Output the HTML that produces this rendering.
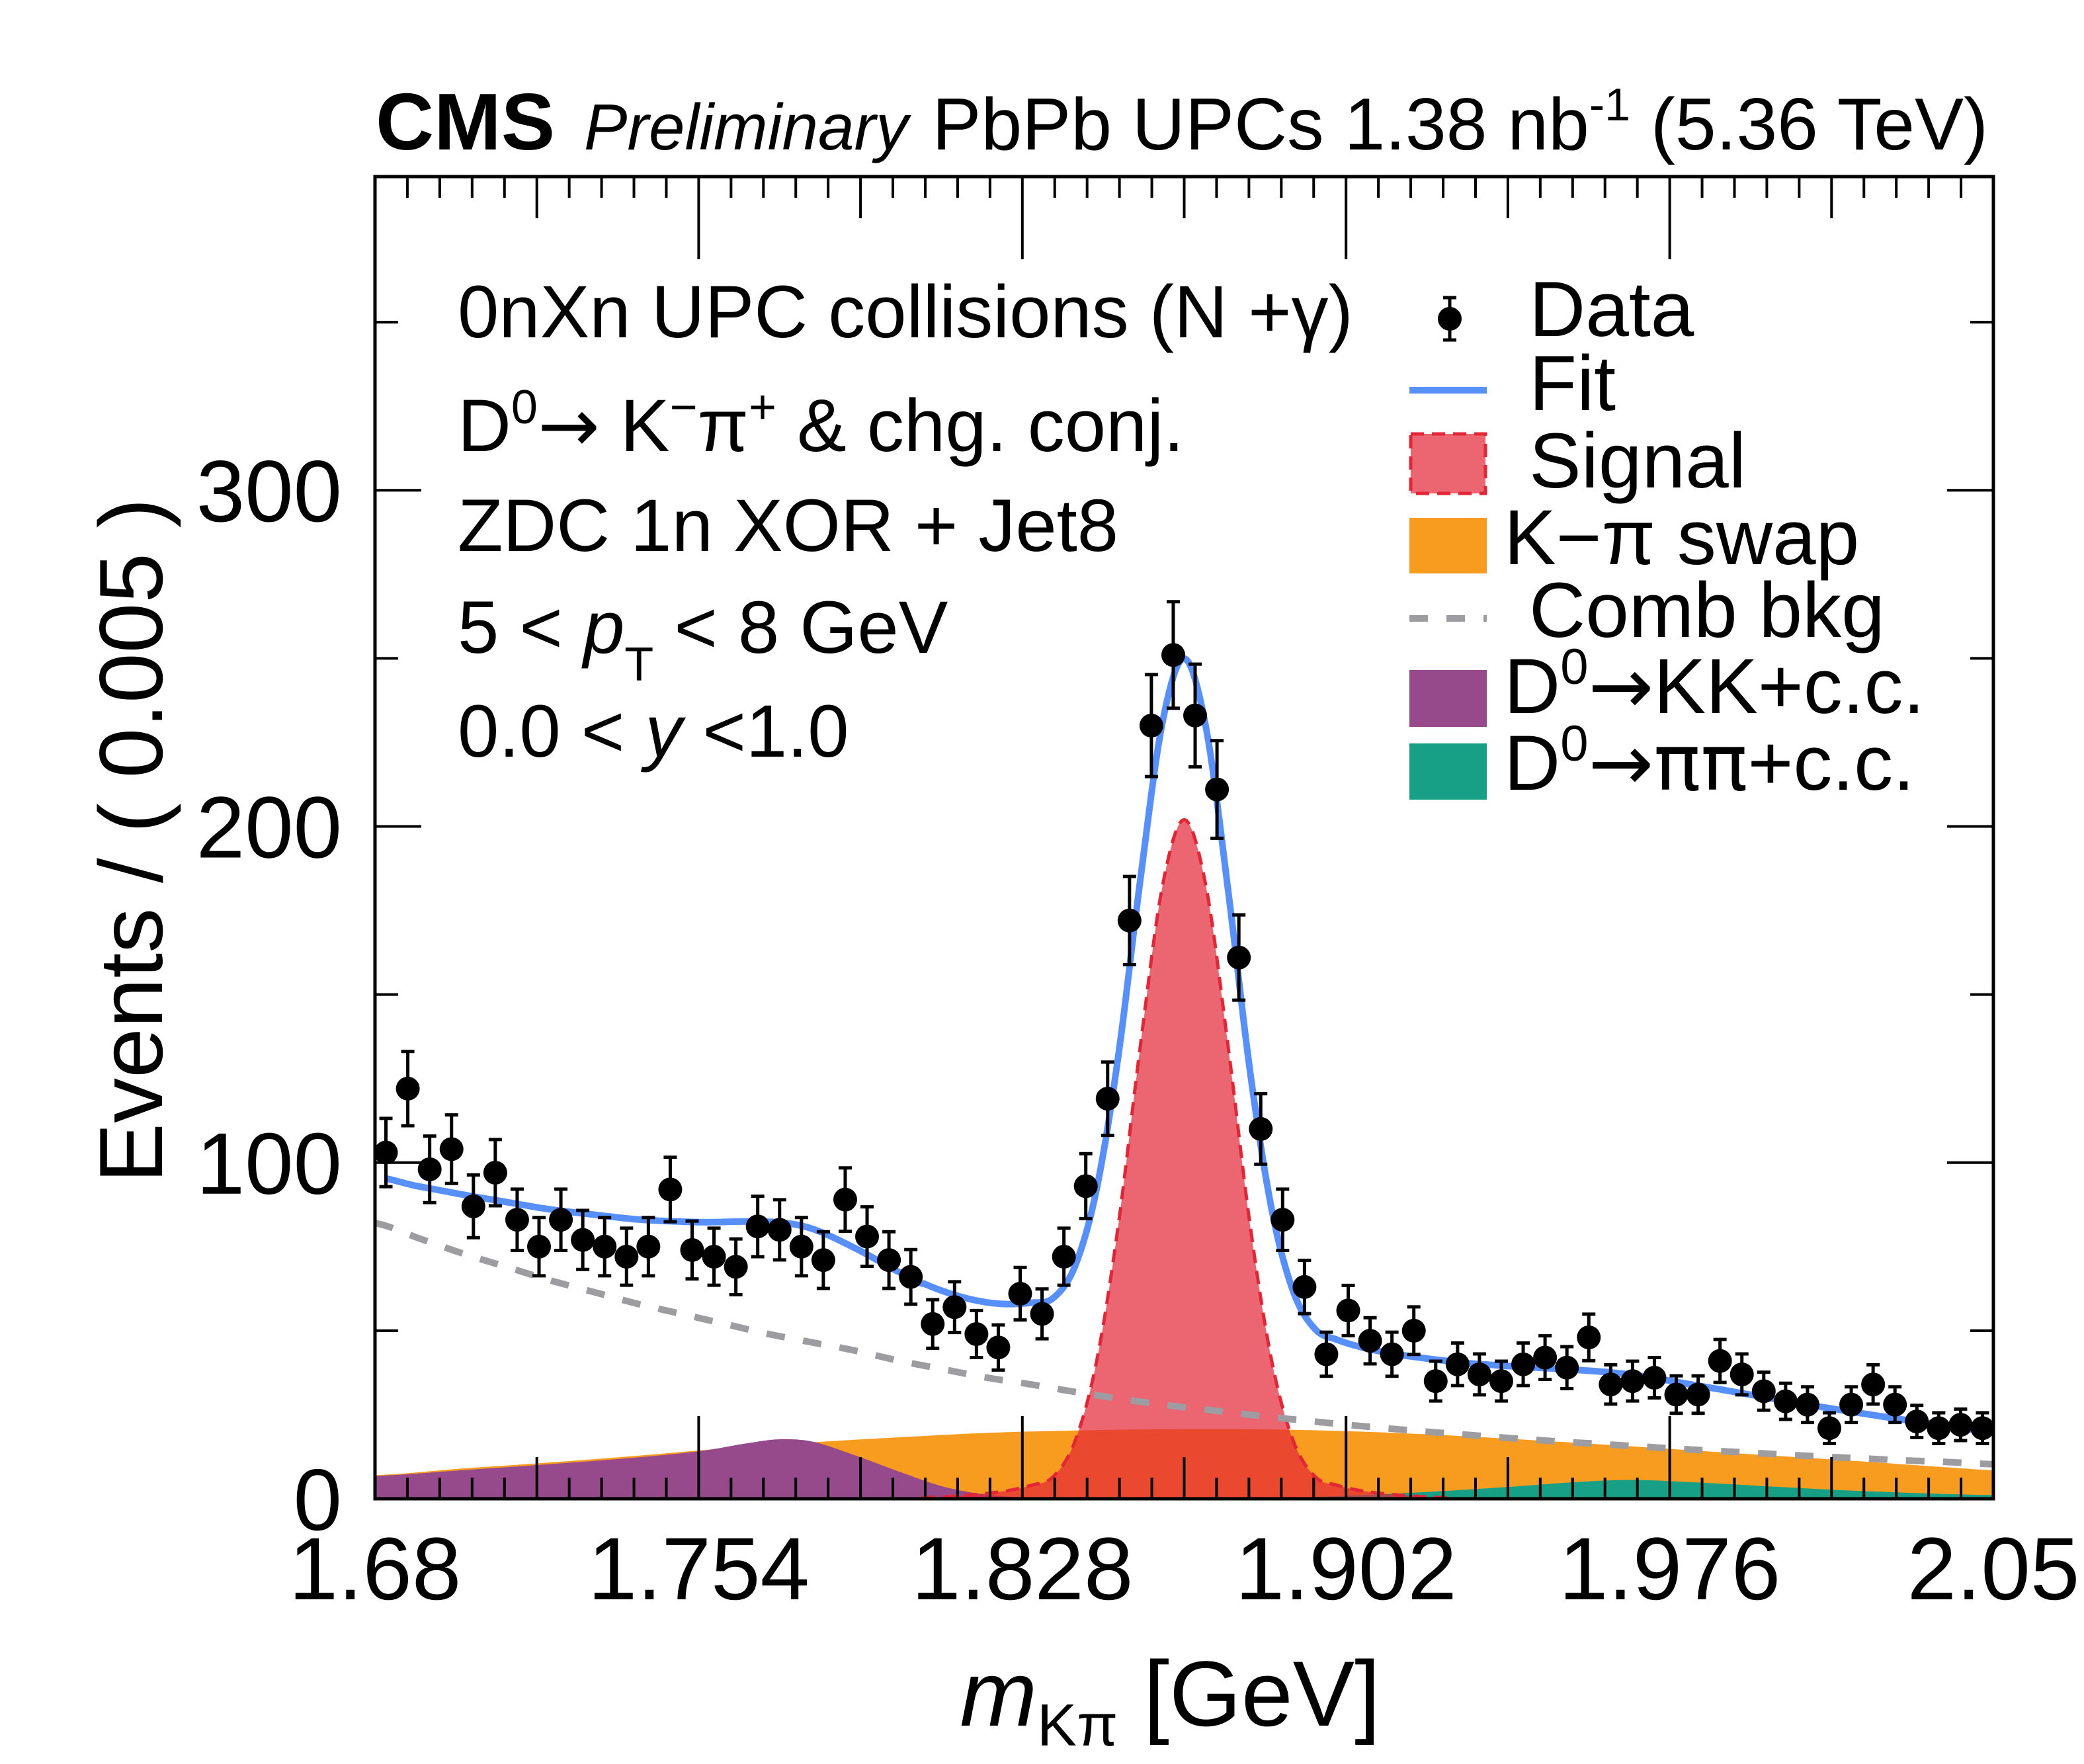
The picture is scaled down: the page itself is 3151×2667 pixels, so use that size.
<!DOCTYPE html>
<html><head><meta charset="utf-8"><style>
html,body{margin:0;padding:0;background:#fff;}
svg{display:block;font-family:"Liberation Sans",Arial,sans-serif;}
.ar{font-family:"DejaVu Sans",sans-serif;}
</style></head><body>
<svg id="chart" width="3151" height="2667" viewBox="0 0 3151 2667" xmlns="http://www.w3.org/2000/svg">
<rect width="3151" height="2667" fill="#fff"/>
<g id="fills"></g>
<g id="lines"></g>
<g id="points"></g>
<g id="axes"></g>

<text x="568" y="226" font-size="122" font-weight="bold">CMS</text>
<text x="883" y="226" font-size="98" font-style="italic">Preliminary</text>
<text x="3006" y="226" font-size="111" text-anchor="end">PbPb UPCs 1.38 nb<tspan dy="-44" font-size="70">-1</tspan><tspan dy="44"> (5.36 TeV)</tspan></text>

<g font-size="112">
<text x="692" y="510">0nXn UPC collisions (N +γ)</text>
<text x="692" y="682">D<tspan dy="-42" font-size="72">0</tspan><tspan dy="42" class="ar">→</tspan> K<tspan dy="-42" font-size="72">−</tspan><tspan dy="42">π</tspan><tspan dy="-42" font-size="72">+</tspan><tspan dy="42"> &amp; chg. conj.</tspan></text>
<text x="692" y="833">ZDC 1n XOR + Jet8</text>
<text x="692" y="987">5 &lt; <tspan font-style="italic">p</tspan><tspan dy="42" font-size="72">T</tspan><tspan dy="-42"> &lt; 8 GeV</tspan></text>
<text x="692" y="1144">0.0 &lt; <tspan font-style="italic">y</tspan> &lt;1.0</text>
</g>

<g font-size="118">
<g>
<line x1="2192" y1="450" x2="2192" y2="514" stroke="#000" stroke-width="5"/>
<line x1="2182" y1="450" x2="2202" y2="450" stroke="#000" stroke-width="5"/>
<line x1="2182" y1="514" x2="2202" y2="514" stroke="#000" stroke-width="5"/>
<circle cx="2192" cy="482" r="18" fill="#000"/>
<text x="2312" y="508">Data</text></g>
<g>
<line x1="2131" y1="590" x2="2248" y2="590" stroke="#5790fc" stroke-width="10"/>
<text x="2312" y="620">Fit</text></g>
<g>
<rect x="2133" y="656" width="113" height="90" fill="rgba(228,37,54,0.7)" stroke="#e42536" stroke-width="5" stroke-dasharray="20 12"/>
<text x="2312" y="737">Signal</text></g>
<g>
<rect x="2131" y="783" width="117" height="84" fill="#f89c20"/>
<text x="2274" y="853">K−π swap</text></g>
<g>
<line x1="2131" y1="935" x2="2248" y2="935" stroke="#9c9ca1" stroke-width="10" stroke-dasharray="28 28"/>
<text x="2312" y="963">Comb bkg</text></g>
<g>
<rect x="2131" y="1013" width="117" height="86" fill="#964a8b"/>
<text x="2274" y="1078">D<tspan dy="-44" font-size="76">0</tspan><tspan dy="44" class="ar">→</tspan>KK+c.c.</text></g>
<g>
<rect x="2131" y="1124" width="117" height="85" fill="#17a085"/>
<text x="2274" y="1194">D<tspan dy="-44" font-size="76">0</tspan><tspan dy="44" class="ar">→ππ</tspan>+c.c.</text></g>
</g>

<text x="245" y="753" font-size="136" text-anchor="end" transform="rotate(-90 245 753)">Events / ( 0.005 )</text>
<text x="2087" y="2609" font-size="140" text-anchor="end"><tspan font-style="italic">m</tspan><tspan dy="30" font-size="90">Kπ</tspan><tspan dy="-30"> [GeV]</tspan></text>
</svg>
<script>
// ---- data ----
const dataCounts = [103,122,98,104,87,97,83,75,83,77,75,72,75,92,74,72,69,81,80,75,71,89,78,71,66,52,57,49,45,61,55,72,93,119,172,230,251,233,211,161,110,83,63,43,56,47,43,50,35,40,37,35,40,42,39,48,34,35,36,31,31,41,37,32,29,28,21,28,34,28,23,21,22,21];
const binStart = 1.68;
const binWidth = 0.005;
const combX = [1.68,1.69,1.70,1.71,1.72,1.73,1.74,1.75,1.76,1.77,1.78,1.79,1.80,1.81,1.82,1.83,1.84,1.85,1.86,1.87,1.88,1.89,1.90,1.91,1.92,1.93,1.94,1.95,1.96,1.97,1.98,1.99,2.00,2.01,2.02,2.03,2.04,2.05];
const combY = [82,77.5,73,69,65,61.5,58,55,52,49,46.5,44,41,38.5,36,34,31.8,29.8,28,26.5,25,23.6,22.3,21.1,20,19,18,17.1,16.3,15.5,14.7,14,13.3,12.6,12,11.4,10.9,10.3];
const swapX = [1.68,1.70,1.72,1.74,1.76,1.78,1.80,1.82,1.84,1.86,1.88,1.90,1.92,1.94,1.96,1.98,2.00,2.02,2.04,2.05];
const swapY = [7,9,10.8,12.8,15,16.8,18.3,19.6,20.3,20.7,20.7,20.2,19.2,17.8,16.2,14.5,12.8,11.1,9.3,8.5];
const kkX = [1.68,1.70,1.72,1.74,1.755,1.765,1.7725,1.78,1.79,1.80,1.81,1.82,1.83,1.84];
const kkY = [6.8,8.5,10.3,12.3,14.3,16.5,17.7,17,12.8,8,3.6,1.2,0.3,0];
const pipiX = [1.88,1.90,1.92,1.94,1.955,1.967,1.98,2.00,2.02,2.05];
const pipiY = [0,0.8,2,3.6,5,5.6,5,3.6,2.3,1.1];
const sigX = [1.805,1.81,1.815,1.82,1.825,1.83,1.835,1.84,1.845,1.85,1.855,1.86,1.865,1.87,1.875,1.88,1.885,1.89,1.895,1.90,1.905,1.91,1.915,1.92,1.925];
const sigY = [0.3,0.6,1,1.6,2.5,4,6.5,17,41,82,135,182,202,182,135,82,41,17,6.5,4,2.5,1.6,1,0.6,0.3];
const xTickLabels = ["1.68","1.754","1.828","1.902","1.976","2.05"];
const yTickLabels = ["0","100","200","300"];

// ---- axes mapping ----
const X0=567, X1=3014, Y0=2266, Y1=267;
const XMIN=1.68, XMAX=2.05, YMIN=0, YMAX=393.3;
const sx = m => X0 + (m-XMIN)/(XMAX-XMIN)*(X1-X0);
const sy = v => Y0 - (v-YMIN)/(YMAX-YMIN)*(Y0-Y1);
const NS="http://www.w3.org/2000/svg";
function mk(tag, attrs, parent){const e=document.createElementNS(NS,tag);for(const k in attrs)e.setAttribute(k,attrs[k]);parent.appendChild(e);return e;}

function interp(xs, ys, x){
  if(x<=xs[0]) return ys[0];
  if(x>=xs[xs.length-1]) return ys[ys.length-1];
  let i=0; while(xs[i+1]<x) i++;
  const x0=xs[i], x1=xs[i+1], t=(x-x0)/(x1-x0);
  const y0=ys[i], y1=ys[i+1];
  const ym=i>0?ys[i-1]:y0, yp=i+2<ys.length?ys[i+2]:y1;
  const xm=i>0?xs[i-1]:x0-(x1-x0), xp=i+2<xs.length?xs[i+2]:x1+(x1-x0);
  const m0=(y1-ym)/(x1-xm)*(x1-x0), m1=(yp-y0)/(xp-x0)*(x1-x0);
  const t2=t*t,t3=t2*t;
  const v=(2*t3-3*t2+1)*y0+(t3-2*t2+t)*m0+(-2*t3+3*t2)*y1+(t3-t2)*m1;
  return Math.max(0,v);
}
function comp(xs,ys,x){ return (x<xs[0]||x>xs[xs.length-1])?0:interp(xs,ys,x); }
function areaPath(xs,ys){
  let d="M"+sx(xs[0]).toFixed(1)+","+Y0;
  const n=Math.ceil((xs[xs.length-1]-xs[0])/0.0005);
  for(let k=0;k<=n;k++){const x=Math.min(xs[0]+k*0.0005,xs[xs.length-1]);d+=" L"+sx(x).toFixed(1)+","+sy(interp(xs,ys,x)).toFixed(1);}
  return d+" L"+sx(xs[xs.length-1]).toFixed(1)+","+Y0+" Z";
}
function linePath(xs,ys){
  let d="";
  const n=Math.ceil((xs[xs.length-1]-xs[0])/0.0005);
  for(let k=0;k<=n;k++){const x=Math.min(xs[0]+k*0.0005,xs[xs.length-1]);d+=(k?" L":"M")+sx(x).toFixed(1)+","+sy(interp(xs,ys,x)).toFixed(1);}
  return d;
}

const fills=document.getElementById('fills');
let p;
p=mk('path',{d:areaPath(swapX,swapY),fill:'#f89c20'},fills);


p=mk('path',{d:areaPath(kkX,kkY),fill:'#964a8b'},fills);


p=mk('path',{d:areaPath(pipiX,pipiY),fill:'#17a085'},fills);


p=mk('path',{d:areaPath(sigX,sigY),fill:'rgba(228,37,54,0.7)'},fills);


p=mk('path',{d:linePath(sigX,sigY),fill:'none',stroke:'#e42536','stroke-width':5,'stroke-dasharray':'20 12'},fills);



const lines=document.getElementById('lines');
p=mk('path',{d:linePath(combX,combY),fill:'none',stroke:'#9c9ca1','stroke-width':10,'stroke-dasharray':'28 28'},lines);


let fd="";
const fitStart=1.6825, fitEnd=2.0475;
for(let x=fitStart,k=0;x<=fitEnd+1e-9;x+=0.0005,k++){
  const v=comp(combX,combY,x)+comp(swapX,swapY,x)+comp(kkX,kkY,x)+comp(pipiX,pipiY,x)+comp(sigX,sigY,x);
  fd+=(k?" L":"M")+sx(x).toFixed(1)+","+sy(v).toFixed(1);
}
p=mk('path',{d:fd,fill:'none',stroke:'#5790fc','stroke-width':10,'stroke-linejoin':'round'},lines);



const pts=document.getElementById('points');
dataCounts.forEach((n,i)=>{
  const cx=sx(binStart+binWidth*(i+0.5)), cy=sy(n), e=Math.sqrt(n);
  const g=mk('g',{},pts);
  
  
  const yt=sy(n+e), yb=sy(n-e);
  mk('line',{x1:cx,y1:yt,x2:cx,y2:yb,stroke:'#000','stroke-width':5},g);
  mk('line',{x1:cx-10,y1:yt,x2:cx+10,y2:yt,stroke:'#000','stroke-width':5},g);
  mk('line',{x1:cx-10,y1:yb,x2:cx+10,y2:yb,stroke:'#000','stroke-width':5},g);
  mk('circle',{cx:cx,cy:cy,r:18,fill:'#000'},g);
});

const ax=document.getElementById('axes');
const xStep=(XMAX-XMIN)/5;
for(let k=0;k<=50;k++){
  const x=sx(XMIN+k*xStep/10);
  const len=(k%10===0)?125:(k%5===0?63:32);
  mk('line',{x1:x,y1:Y0,x2:x,y2:Y0-len,stroke:'#000','stroke-width':4},ax);
  mk('line',{x1:x,y1:Y1,x2:x,y2:Y1+len,stroke:'#000','stroke-width':4},ax);
}
xTickLabels.forEach((lab,k)=>{
  const t=mk('text',{x:sx(XMIN+k*xStep),y:2418,'font-size':134,'text-anchor':'middle'},ax);
  t.textContent=lab;
  
  
});
for(let v=0;v<=YMAX;v+=50){
  const y=sy(v);
  const len=(v%100===0)?70:35;
  mk('line',{x1:X0,y1:y,x2:X0+len,y2:y,stroke:'#000','stroke-width':4},ax);
  mk('line',{x1:X1,y1:y,x2:X1-len,y2:y,stroke:'#000','stroke-width':4},ax);
}
yTickLabels.forEach((lab)=>{
  const t=mk('text',{x:517,y:sy(+lab)+47,'font-size':132,'text-anchor':'end'},ax);
  t.textContent=lab;
  
  
});
const fr=mk('rect',{x:X0,y:Y1,width:X1-X0,height:Y0-Y1,fill:'none',stroke:'#000','stroke-width':5},ax);


</script>
</body></html>
